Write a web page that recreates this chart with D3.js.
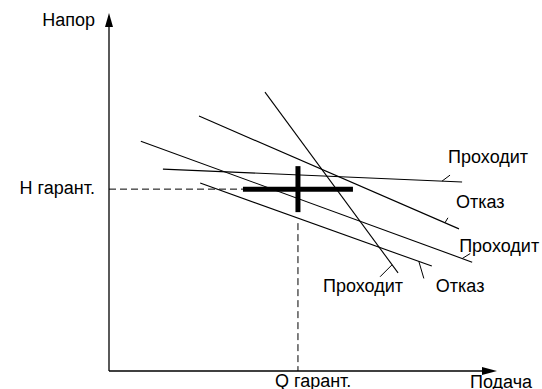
<!DOCTYPE html>
<html>
<head>
<meta charset="utf-8">
<script src="https://cdn.jsdelivr.net/npm/d3@7"></script>
<style>
  html, body { margin: 0; padding: 0; background: #fff; }
  svg { display: block; }
  text { font-family: Arial, "Liberation Sans", sans-serif; font-size: 18px; fill: #000; }
</style>
</head>
<body>
<svg id="chart" width="542" height="389"></svg>
<script>
// ---- data (Q = подача, H = напор, in axis units 0..100) ----
const curveLabels = ["Проходит", "Отказ", "Проходит", "Проходит", "Отказ"];
const curveStartQ = [40.2, 23.2, 8.2, 13.9, 23.5];
const curveStartH = [77.9, 71.2, 64.2, 56.4, 52.5];
const curveEndQ   = [74.5, 90.2, 93.6, 91.0, 83.2];
const curveEndH   = [27.4, 39.7, 30.4, 52.8, 29.3];
const guaranteeQ = 48.7;
const guaranteeH = 50.8;
const axisTitles = { x: "Подача", y: "Напор" };
const guaranteeLabels = { q: "Q гарант.", h: "Н гарант." };

// ---- layout / style (annotation placement) ----
const leaderT  = [0.955, 0.946, 0.97, 0.933, 0.944];
const leaderDX = [-12, 3, 8, 8, 5];
const leaderDY = [12, -5, -5, -6, 17];
const labelDX  = [-75, -3, -13, -14, 4];
const labelDY  = [19, -21, -10, -19, 26];

const svg = d3.select("#chart");
const x = d3.scaleLinear().domain([0, 100]).range([109, 497]);
const y = d3.scaleLinear().domain([0, 100]).range([371, 13]);

const g = svg.append("g");

// axes with arrows
g.append("line").attr("x1", x(0)).attr("y1", y(0)).attr("x2", x(0)).attr("y2", y(100) + 12)
  .attr("stroke", "#000").attr("stroke-width", 1.3);
g.append("path").attr("d", `M${x(0)},${y(100)} L${x(0) - 4},${y(100) + 14} L${x(0) + 4},${y(100) + 14} Z`)
  .attr("fill", "#000");
g.append("line").attr("x1", x(0)).attr("y1", y(0)).attr("x2", x(100) - 12).attr("y2", y(0))
  .attr("stroke", "#000").attr("stroke-width", 1.3);
g.append("path").attr("d", `M${x(100)},${y(0)} L${x(100) - 15},${y(0) - 4} L${x(100) - 15},${y(0) + 4} Z`)
  .attr("fill", "#000");

g.append("text").attr("x", 95).attr("y", 26).attr("text-anchor", "end").text(axisTitles.y);
g.append("text").attr("x", 470).attr("y", 388).text(axisTitles.x);

// guarantee dashed lines
const crossHalfW = 55, crossHalfH = 23;
g.append("line")
  .attr("x1", x(0)).attr("y1", y(guaranteeH))
  .attr("x2", x(guaranteeQ) - crossHalfW).attr("y2", y(guaranteeH))
  .attr("stroke", "#000").attr("stroke-width", 1).attr("stroke-dasharray", "7,4");
g.append("line")
  .attr("x1", x(guaranteeQ)).attr("y1", y(guaranteeH) + crossHalfH + 11)
  .attr("x2", x(guaranteeQ)).attr("y2", y(0))
  .attr("stroke", "#000").attr("stroke-width", 1).attr("stroke-dasharray", "7,4");

g.append("text").attr("x", 95).attr("y", 194).attr("text-anchor", "end").text(guaranteeLabels.h);
g.append("text").attr("x", x(guaranteeQ) - 23).attr("y", 387).text(guaranteeLabels.q);

// characteristic lines
const curves = curveLabels.map((lab, i) => ({
  lab, q0: curveStartQ[i], h0: curveStartH[i], q1: curveEndQ[i], h1: curveEndH[i], i
}));

g.selectAll("line.curve").data(curves).join("line")
  .attr("class", "curve")
  .attr("x1", d => x(d.q0)).attr("y1", d => y(d.h0))
  .attr("x2", d => x(d.q1)).attr("y2", d => y(d.h1))
  .attr("stroke", "#000").attr("stroke-width", 1.1);

// leaders
g.selectAll("line.leader").data(curves).join("line")
  .attr("class", "leader")
  .attr("x1", d => x(d.q0 + (d.q1 - d.q0) * leaderT[d.i]))
  .attr("y1", d => y(d.h0 + (d.h1 - d.h0) * leaderT[d.i]))
  .attr("x2", d => x(d.q0 + (d.q1 - d.q0) * leaderT[d.i]) + leaderDX[d.i])
  .attr("y2", d => y(d.h0 + (d.h1 - d.h0) * leaderT[d.i]) + leaderDY[d.i])
  .attr("stroke", "#000").attr("stroke-width", 1);

g.selectAll("text.clabel").data(curves).join("text")
  .attr("class", "clabel")
  .attr("x", d => x(d.q1) + labelDX[d.i])
  .attr("y", d => y(d.h1) + labelDY[d.i])
  .text(d => d.lab);

// guarantee cross
g.append("line")
  .attr("x1", x(guaranteeQ) - crossHalfW).attr("y1", y(guaranteeH))
  .attr("x2", x(guaranteeQ) + crossHalfW).attr("y2", y(guaranteeH))
  .attr("stroke", "#000").attr("stroke-width", 5);
g.append("line")
  .attr("x1", x(guaranteeQ)).attr("y1", y(guaranteeH) - crossHalfH)
  .attr("x2", x(guaranteeQ)).attr("y2", y(guaranteeH) + crossHalfH)
  .attr("stroke", "#000").attr("stroke-width", 5);
</script>
</body>
</html>
